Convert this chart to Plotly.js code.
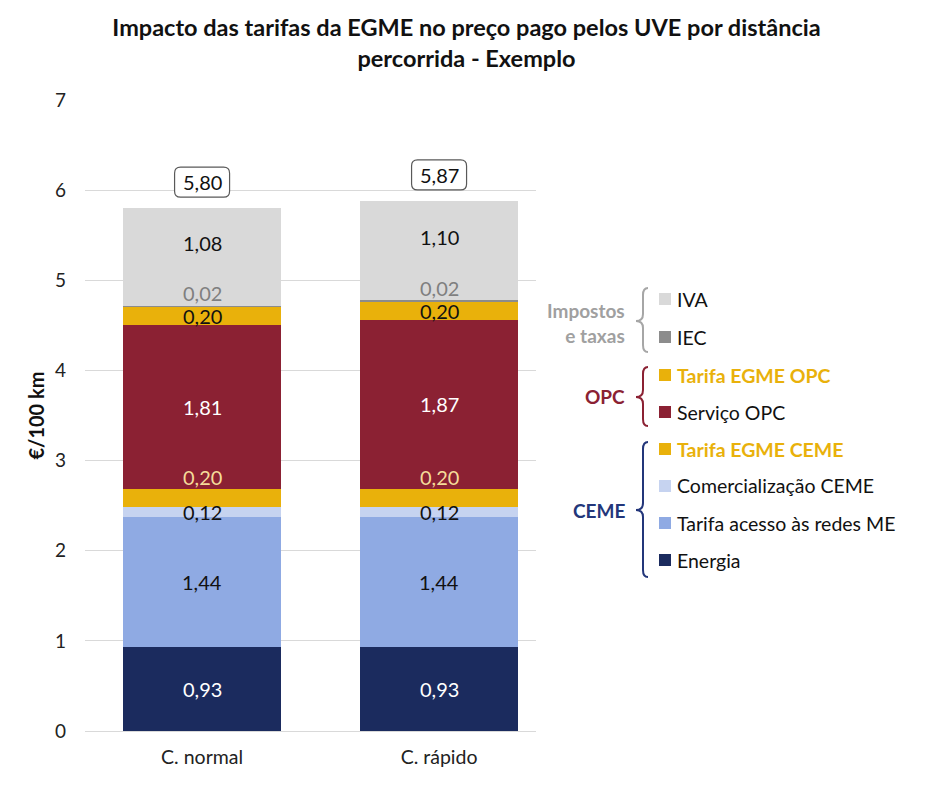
<!DOCTYPE html>
<html>
<head>
<meta charset="utf-8">
<script src="https://cdn.plot.ly/plotly-3.0.1.min.js"></script>
<style>html,body{margin:0;padding:0;background:#fff;}</style>
</head>
<body>
<div id="chart" style="width:933px;height:800px;"></div>
<script>
// ---- DATA ----
const categories = ['C. normal', 'C. rápido'];
const energia    = [0.93, 0.93];
const acesso     = [1.44, 1.44];
const comerc     = [0.12, 0.12];
const egmeCeme   = [0.20, 0.20];
const servicoOpc = [1.81, 1.87];
const egmeOpc    = [0.20, 0.20];
const iec        = [0.02, 0.02];
const iva        = [1.08, 1.10];
const totals     = [5.80, 5.87];

const seriesNames = ['Energia', 'Tarifa acesso às redes ME', 'Comercialização CEME', 'Tarifa EGME CEME',
                     'Serviço OPC', 'Tarifa EGME OPC', 'IEC', 'IVA'];
const seriesVals  = [energia, acesso, comerc, egmeCeme, servicoOpc, egmeOpc, iec, iva];

// ---- STYLE ----
const colors = ['#1b2b5e', '#8faae3', '#c6d3f0', '#e9b10b', '#8b2133', '#e9b10b', '#8c8c8c', '#d9d9d9'];
const labelColors = ['#ffffff', '#111111', '#111111', '#f5dc9a', '#ffffff', '#111111', '#7f7f7f', '#111111'];
const labelShift = [0, 0, 0, 21, 0, 0, 13, 14];
const FONT = "Lato, 'Open Sans', sans-serif";

const W = 933, H = 800;
const L = 85, R = 536, T = 100, B = 731;
function px(x) { return (x - L) / (R - L); }
function py(y) { return (B - y) / (B - T); }

const traces = seriesNames.map((n, i) => ({
  type: 'bar', name: n, x: categories, y: seriesVals[i],
  marker: {color: colors[i], line: {width: 0}},
  width: 0.667, hoverinfo: 'skip', showlegend: false
}));

const annotations = [];
const shapes = [];

// segment labels
categories.forEach((c, ci) => {
  let base = 0;
  seriesVals.forEach((vals, si) => {
    const v = vals[ci];
    annotations.push({
      x: c, y: base + v / 2, xref: 'x', yref: 'y', showarrow: false,
      text: v.toFixed(2).replace('.', ','), yshift: labelShift[si],
      font: {family: FONT, size: 20, color: labelColors[si]}
    });
    base += v;
  });
  const top = base;
  // total box
  const x0 = -27.5, x1 = 27.5, y0 = 11, y1 = 41, r = 6;
  const path = `M ${x0 + r},${y0} L ${x1 - r},${y0} Q ${x1},${y0} ${x1},${y0 + r} L ${x1},${y1 - r} Q ${x1},${y1} ${x1 - r},${y1} L ${x0 + r},${y1} Q ${x0},${y1} ${x0},${y1 - r} L ${x0},${y0 + r} Q ${x0},${y0} ${x0 + r},${y0} Z`;
  shapes.push({
    type: 'path', xref: 'x', yref: 'y', xsizemode: 'pixel', ysizemode: 'pixel',
    xanchor: c, yanchor: top, path: path,
    line: {color: '#595959', width: 1.2}, fillcolor: '#ffffff', layer: 'above'
  });
  annotations.push({
    x: c, y: top, xref: 'x', yref: 'y', showarrow: false, yshift: 26,
    text: totals[ci].toFixed(2).replace('.', ','),
    font: {family: FONT, size: 20, color: '#111111'}
  });
});

// custom legend
const legendItems = [
  {name: 'IVA', color: colors[7], y: 299, bold: false},
  {name: 'IEC', color: colors[6], y: 337, bold: false},
  {name: 'Tarifa EGME OPC', color: colors[5], y: 375, bold: true},
  {name: 'Serviço OPC', color: colors[4], y: 412, bold: false},
  {name: 'Tarifa EGME CEME', color: colors[3], y: 449, bold: true},
  {name: 'Comercialização CEME', color: colors[2], y: 486, bold: false},
  {name: 'Tarifa acesso às redes ME', color: colors[1], y: 523, bold: false},
  {name: 'Energia', color: colors[0], y: 560, bold: false}
];
legendItems.forEach(it => {
  shapes.push({type: 'rect', xref: 'paper', yref: 'paper',
    x0: px(659), x1: px(671), y0: py(it.y + 6), y1: py(it.y - 6),
    fillcolor: it.color, line: {width: 0}});
  annotations.push({xref: 'paper', yref: 'paper', x: px(675), y: py(it.y), xanchor: 'left', yanchor: 'middle',
    showarrow: false, text: it.bold ? '<b>' + it.name + '</b>' : it.name,
    font: {family: FONT, size: 19.5, color: it.bold ? '#e9b10b' : '#111111'}});
});

// braces
function brace(top, tip, bottom, color) {
  const xe = 648, xv = 643, xt = 636, c = 7;
  const p = (x, y) => px(x) + ',' + py(y);
  const d = `M ${p(xe, top)} Q ${p(xv, top)} ${p(xv, top + c)} L ${p(xv, tip - c)} Q ${p(xv, tip)} ${p(xt, tip)} Q ${p(xv, tip)} ${p(xv, tip + c)} L ${p(xv, bottom - c)} Q ${p(xv, bottom)} ${p(xe, bottom)}`;
  shapes.push({type: 'path', xref: 'paper', yref: 'paper', path: d, line: {color: color, width: 2}});
}
brace(288, 321, 352, '#a6a6a6');
brace(367, 397, 426, '#8b2133');
brace(442, 510, 577, '#23367a');

annotations.push({xref: 'paper', yref: 'paper', x: px(627), y: py(323), xanchor: 'right', yanchor: 'middle',
  align: 'right', showarrow: false, text: '<b>Impostos<br>e taxas</b>',
  font: {family: FONT, size: 19, color: '#a0a0a0'}});
annotations.push({xref: 'paper', yref: 'paper', x: px(627), y: py(397), xanchor: 'right', yanchor: 'middle',
  showarrow: false, text: '<b>OPC</b>', font: {family: FONT, size: 19, color: '#8b2133'}});
annotations.push({xref: 'paper', yref: 'paper', x: px(627), y: py(510), xanchor: 'right', yanchor: 'middle',
  showarrow: false, text: '<b>CEME</b>', font: {family: FONT, size: 19, color: '#23367a'}});

const layout = {
  width: W, height: H,
  margin: {l: L, r: W - R, t: T, b: H - B, autoexpand: false},
  paper_bgcolor: '#ffffff', plot_bgcolor: '#ffffff',
  barmode: 'stack',
  title: {text: '<b>Impacto das tarifas da EGME no preço pago pelos UVE por distância<br>percorrida - Exemplo</b>',
    x: 0.5, xref: 'container', xanchor: 'center', y: 1 - 36 / H, yanchor: 'middle',
    font: {family: FONT, size: 23.5, color: '#111111'}},
  xaxis: {type: 'category', range: [-0.494, 1.409], showgrid: false, showline: false, zeroline: false,
    ticks: '', ticklabelstandoff: 12, tickfont: {family: FONT, size: 19.5, color: '#222222'}, fixedrange: true},
  yaxis: {range: [0, 7], dtick: 1, tick0: 0, showgrid: true, gridcolor: '#d9d9d9', gridwidth: 1,
    zeroline: true, zerolinecolor: '#d9d9d9', zerolinewidth: 1, showline: false, ticks: '',
    ticklabelstandoff: 18, tickfont: {family: FONT, size: 19, color: '#222222'},
    title: {text: '<b>€/100 km</b>', standoff: 4, font: {family: FONT, size: 20, color: '#111111'}}, fixedrange: true},
  shapes: shapes,
  annotations: annotations
};

Plotly.newPlot('chart', traces, layout, {displayModeBar: false, staticPlot: true});
</script>
</body>
</html>
